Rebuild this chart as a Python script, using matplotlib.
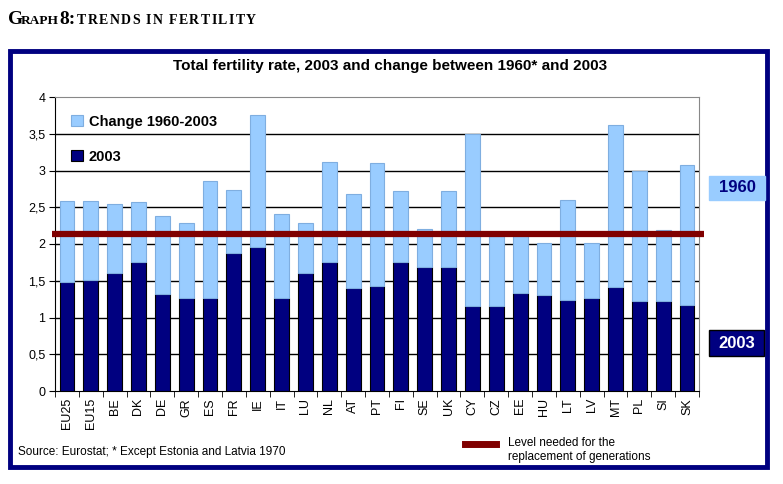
import matplotlib
matplotlib.use("Agg")
import matplotlib.pyplot as plt
from matplotlib.patches import Rectangle
import numpy as np

countries = ["EU25", "EU15", "BE", "DK", "DE", "GR", "ES", "FR", "IE", "IT", "LU", "NL", "AT",
             "PT", "FI", "SE", "UK", "CY", "CZ", "EE", "HU", "LT", "LV", "MT", "PL", "SI", "SK"]
tfr_2003 = [1.48, 1.51, 1.60, 1.76, 1.32, 1.26, 1.27, 1.88, 1.96, 1.27, 1.61, 1.75, 1.40,
            1.43, 1.76, 1.69, 1.69, 1.15, 1.16, 1.34, 1.30, 1.24, 1.27, 1.41, 1.23, 1.22, 1.17]
tfr_1960 = [2.58, 2.58, 2.55, 2.57, 2.38, 2.28, 2.86, 2.73, 3.76, 2.41, 2.28, 3.12, 2.68,
            3.10, 2.72, 2.20, 2.72, 3.50, 2.11, 2.14, 2.02, 2.60, 2.01, 3.62, 2.99, 2.19, 3.07]
replacement_level = 2.13
yticks = [0, 0.5, 1, 1.5, 2, 2.5, 3, 3.5, 4]
ytick_labels = ["0", "0,5", "1", "1,5", "2", "2,5", "3", "3,5", "4"]

W, H = 783, 484
fig = plt.figure(figsize=(W / 100, H / 100), dpi=100)
fig.patch.set_facecolor("white")

def fx(px):
    return px / W

def fy(py):
    return 1 - py / H

# outer navy frame
fig.patches.append(Rectangle((fx(10), fy(467)), fx(767) - fx(10), fy(51) - fy(467),
                             transform=fig.transFigure, fill=False, edgecolor="#000080",
                             linewidth=3.5, zorder=0))

ax = fig.add_axes([fx(55), fy(391), fx(699) - fx(55), fy(97) - fy(391)])
x = np.arange(len(countries))
change = [a - b for a, b in zip(tfr_1960, tfr_2003)]
dark = "#000080"
light = "#99CCFF"
bw = 0.62
ax.bar(x, tfr_2003, width=bw, color=dark, edgecolor="black", linewidth=0.8, zorder=3,
       label="2003")
ax.bar(x, change, bottom=tfr_2003, width=bw, color=light, edgecolor="#7FAEE0",
       linewidth=0.8, zorder=3, label="Change 1960-2003")

ax.set_xlim(-0.5, len(countries) - 0.5)
ax.set_ylim(0, 4)
ax.set_yticks(yticks)
ax.set_yticklabels(ytick_labels, fontsize=9, family="Liberation Sans")
ax.set_xticks(x)
ax.set_xticklabels(countries, rotation=90, fontsize=9, family="Liberation Sans")
ax.set_xticks(np.arange(-0.5, len(countries)), minor=True)
ax.tick_params(axis="x", which="major", length=0, pad=5)
ax.tick_params(axis="x", which="minor", length=4, color="black", direction="out")
ax.tick_params(axis="y", length=4, color="black", pad=3)
for yv in yticks[1:-1]:
    ax.axhline(yv, color="black", linewidth=1.0, zorder=1)
ax.spines["top"].set_color("#888888")
ax.spines["right"].set_color("#888888")
ax.spines["left"].set_color("black")
ax.spines["bottom"].set_color("black")

ax.hlines(replacement_level, -0.63, len(countries) - 0.28, color="#800000", linewidth=4.5,
          zorder=5, clip_on=False)

# in-plot legend
handles, labels = ax.get_legend_handles_labels()
leg = ax.legend(handles[::-1], labels[::-1], loc="upper left", bbox_to_anchor=(0.005, 0.985),
                frameon=False, prop={"family": "Liberation Sans", "weight": "bold", "size": 10.5},
                handlelength=0.8, handleheight=0.8, handletextpad=0.4, labelspacing=1.45)

# Title of the figure (small caps)
renderer = fig.canvas.get_renderer()
big, small = 14, 10

def put(text, x0, size):
    return fig.text(fx(x0), fy(24), text, fontsize=size, fontweight="bold",
                    family="Liberation Serif", va="baseline", ha="left")

put("G", 8, big)
put("RAPH", 21, 9.6)
put("8:", 59, big)
xp = 77
for ch in "TRENDS IN FERTILITY":
    if ch == " ":
        xp += 4.5
        continue
    t = put(ch, xp, small)
    xp += t.get_window_extent(renderer=renderer).width + 1.4

fig.text(fx(390), fy(66), "Total fertility rate, 2003 and change between 1960* and 2003",
         fontsize=11, fontweight="bold", family="Liberation Sans", ha="center", va="center")

# side boxes
fig.patches.append(Rectangle((fx(709), fy(200)), fx(765) - fx(709), fy(176) - fy(200),
                             transform=fig.transFigure, facecolor=light, edgecolor=light))
fig.text(fx(737), fy(188), "1960", fontsize=12, fontweight="bold", family="Liberation Sans",
         color="#000080", ha="center", va="center")
fig.patches.append(Rectangle((fx(709), fy(356)), fx(764) - fx(709), fy(330) - fy(356),
                             transform=fig.transFigure, facecolor=dark, edgecolor="black",
                             linewidth=1))
fig.text(fx(736.5), fy(343), "2003", fontsize=12, fontweight="bold", family="Liberation Sans",
         color="white", ha="center", va="center")

fig.text(fx(18), fy(452), "Source: Eurostat; * Except Estonia and Latvia 1970", fontsize=8.5,
         family="Liberation Sans", ha="left", va="center")
fig.lines.append(plt.Line2D([fx(465), fx(496)], [fy(444), fy(444)], transform=fig.transFigure,
                            color="#800000", linewidth=5))
fig.text(fx(508), fy(450), "Level needed for the\nreplacement of generations", fontsize=8.5,
         family="Liberation Sans", ha="left", va="center", linespacing=1.3)

fig.savefig("out.png", dpi=100, facecolor="white")
